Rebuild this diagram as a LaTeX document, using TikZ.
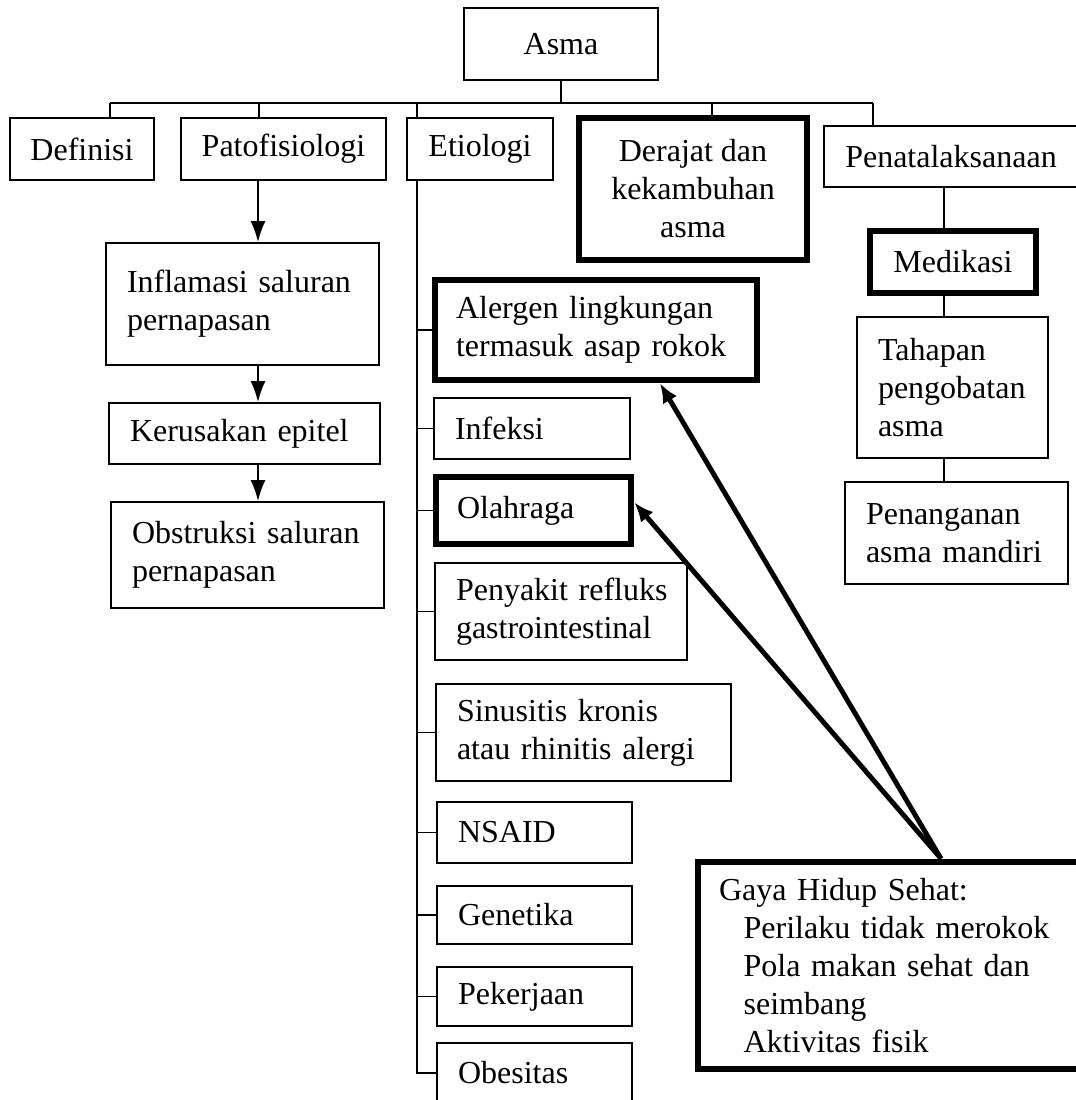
\documentclass[tikz,border=0pt]{standalone}
\usepackage{fontspec}
\setmainfont{Liberation Serif}
\usepackage{tikz}
\usetikzlibrary{arrows.meta, calc, positioning}
\tikzset{
    boxThin/.style={rectangle, draw, line width=0.5pt, fill=white, inner xsep=0.21cm, inner ysep=0pt, font=\fontsize{9.1}{10.8}\selectfont},
    boxThick/.style={boxThin, line width=1.9pt},
    treeEdge/.style={line width=0.5pt},
    flowEdge/.style={-{Latex[length=6pt, width=4.3pt]}, line width=0.6pt},
    boldEdge/.style={-{Latex[length=5.5pt, width=4.6pt]}, line width=1.4pt},
}
% box given by its corners, text centred
\newcommand{\drawBox}[7][boxThin]{
    \node[#1, inner xsep=0.05cm, align=center, minimum width={(#5-#3)*0.01cm}, minimum height={(#6-#4)*0.01cm}] (#2) at ({(#3+#5)/2}, {(#4+#6)/2}) {#7};
}
% box given by its corners, text flush left
\newcommand{\drawLeftBox}[7][boxThin]{
    \pgfmathsetlengthmacro{\boxTw}{(#5-#3)*0.01cm-0.42cm}
    \node[#1, align=left, text width=\boxTw, minimum width={(#5-#3)*0.01cm}, minimum height={(#6-#4)*0.01cm}] (#2) at ({(#3+#5)/2}, {(#4+#6)/2}) {#7};
}

\begin{document}
\begin{tikzpicture}[x=0.01cm, y=-0.01cm]

    \useasboundingbox (0, 0) rectangle (1076, 1100);
    \clip (0, 0) rectangle (1076, 1100);

    % top row
    \drawBox{asma}{464}{8}{658}{80}{Asma}
    \drawBox{defi}{10}{118}{154}{180}{Definisi}
    \drawBox{pato}{181}{118}{386}{180}{Patofisiologi}
    \drawBox{etio}{407}{118}{553}{180}{Etiologi}
    \drawBox[boxThick]{dera}{579}{118}{807}{260}{Derajat dan\\kekambuhan\\asma}
    \drawBox{pena}{824}{126}{1078}{187}{Penatalaksanaan}

    \coordinate (busL) at (110, 103);
    \coordinate (busP) at (259, 103);
    \coordinate (trunk) at (417, 103);
    \coordinate (busD) at (712, 103);
    \coordinate (busR) at (873, 103);

    \draw[treeEdge] (asma) -- (asma |- busL);
    \draw[treeEdge] (busL) -- (busR);
    \draw[treeEdge] (busL) -- (busL |- defi.north);
    \draw[treeEdge] (busP) -- (busP |- pato.north);
    \draw[treeEdge] (trunk) -- (trunk |- etio.north);
    \draw[treeEdge] (busD) -- (busD |- dera.north);
    \draw[treeEdge] (busR) -- (busR |- pena.north);

    % patofisiologi
    \drawLeftBox{infl}{106}{243}{379}{365}{Inflamasi saluran\\pernapasan}
    \drawLeftBox{keru}{109}{403}{380}{464}{Kerusakan epitel}
    \drawLeftBox{obst}{111}{502}{384}{608}{Obstruksi saluran\\pernapasan}

    \coordinate (px) at (258, 0);
    \draw[flowEdge] (pato.south -| px) -- (infl.north -| px);
    \draw[flowEdge] (infl.south -| px) -- (keru.north -| px);
    \draw[flowEdge] (keru.south -| px) -- (obst.north -| px);

    % etiologi
    \drawLeftBox[boxThick]{alrg}{435}{280}{757}{380}{Alergen lingkungan\\termasuk asap rokok}
    \drawLeftBox{infe}{434}{398}{630}{459}{Infeksi}
    \drawLeftBox[boxThick]{olah}{436}{477}{631}{544}{Olahraga}
    \drawLeftBox{peny}{435}{563}{687}{660}{\mbox{Penyakit refluks}\\gastrointestinal}
    \drawLeftBox{sinu}{436}{684}{731}{781}{Sinusitis kronis\\atau rhinitis alergi}
    \drawLeftBox{nsai}{437}{802}{632}{863}{NSAID}
    \drawLeftBox{gene}{437}{886}{632}{944}{Genetika}
    \drawLeftBox{peke}{437}{967}{632}{1026}{Pekerjaan}
    \drawLeftBox{obes}{437}{1043}{632}{1103}{Obesitas}

    \draw[treeEdge] (trunk |- etio.south) |- (obes.west);
    \foreach \b in {alrg, infe, olah, peny, sinu, nsai, gene, peke}
        \draw[treeEdge] (trunk |- \b.west) -- (\b.west);

    % penatalaksanaan
    \drawBox[boxThick]{medi}{870}{231}{1036}{293}{Medikasi}
    \drawLeftBox{taha}{857}{317}{1048}{458}{Tahapan\\pengobatan\\asma}
    \drawLeftBox{pngn}{845}{482}{1068}{584}{Penanganan\\asma mandiri}

    \coordinate (rx) at (944, 0);
    \draw[treeEdge] (pena.south -| rx) -- (medi.north -| rx);
    \draw[treeEdge] (medi.south -| rx) -- (taha.north -| rx);
    \draw[treeEdge] (taha.south -| rx) -- (pngn.north -| rx);

    % gaya hidup
    \drawLeftBox[boxThick]{gaya}{698}{862}{1090}{1069}{Gaya Hidup Sehat:\\\hspace*{7pt}Perilaku tidak merokok\\\hspace*{7pt}Pola makan sehat dan\\\hspace*{7pt}seimbang\\\hspace*{7pt}Aktivitas fisik}

    \coordinate (gx) at (941, 0);
    \coordinate (ax) at (660, 0);
    \draw[boldEdge] (gaya.north -| gx) -- (alrg.south -| ax);
    \draw[boldEdge] (gaya.north -| gx) -- ([yshift=0.08cm]olah.east);

\end{tikzpicture}
\end{document}
